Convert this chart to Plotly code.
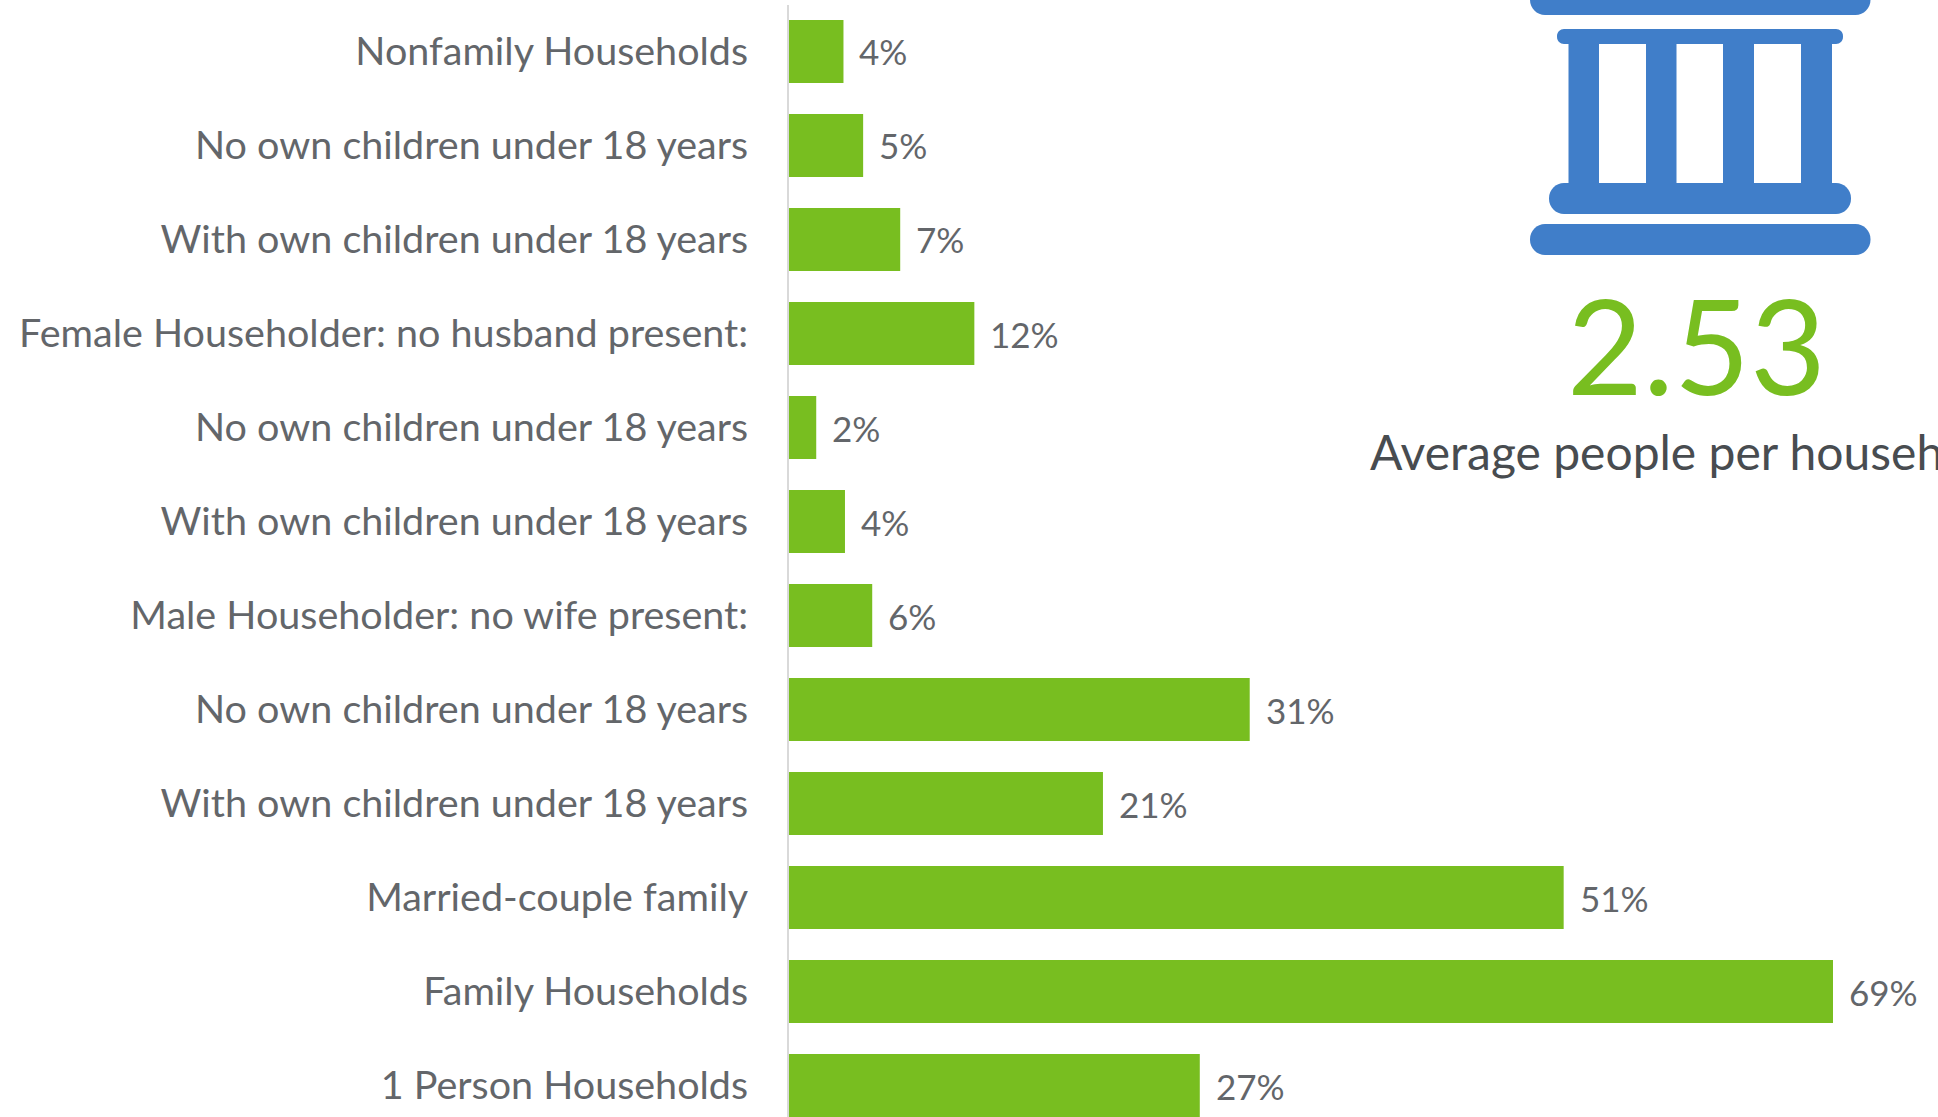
import plotly.graph_objects as go

W, H = 1938, 1117

# Data, bottom to top as drawn by the axis
categories = [
    "1 Person Households",
    "Family Households",
    "Married-couple family",
    "With own children under 18 years",
    "No own children under 18 years",
    "Male Householder: no wife present:",
    "With own children under 18 years",
    "No own children under 18 years",
    "Female Householder: no husband present:",
    "With own children under 18 years",
    "No own children under 18 years",
    "Nonfamily Households",
]
values = [27.15, 69.0, 51.2, 20.75, 30.45, 5.5, 3.7, 1.8, 12.25, 7.35, 4.9, 3.6]
value_labels = ["27%", "69%", "51%", "21%", "31%", "6%", "4%", "2%", "12%", "7%", "5%", "4%"]
positions = list(range(len(categories)))

big_number = "2.53"
big_caption = "Average people per household"

GREEN = "#78BE20"
BLUE = "#407EC9"
GREY = "#63666A"
DARK = "#484C50"
FONT = "Lato"


def px(x):
    return x / W


def py(y):
    return 1 - y / H


def rounded(x0, y0, x1, y1, r):
    c = 0.45 * r
    pts = [
        f"M{px(x0 + r)},{py(y0)}",
        f"L{px(x1 - r)},{py(y0)}",
        f"C{px(x1 - c)},{py(y0)} {px(x1)},{py(y0 + c)} {px(x1)},{py(y0 + r)}",
        f"L{px(x1)},{py(y1 - r)}",
        f"C{px(x1)},{py(y1 - c)} {px(x1 - c)},{py(y1)} {px(x1 - r)},{py(y1)}",
        f"L{px(x0 + r)},{py(y1)}",
        f"C{px(x0 + c)},{py(y1)} {px(x0)},{py(y1 - c)} {px(x0)},{py(y1 - r)}",
        f"L{px(x0)},{py(y0 + r)}",
        f"C{px(x0)},{py(y0 + c)} {px(x0 + c)},{py(y0)} {px(x0 + r)},{py(y0)}",
        "Z",
    ]
    return dict(type="path", xref="paper", yref="paper", path=" ".join(pts),
                fillcolor=BLUE, line=dict(width=0), layer="above")


icon = [
    rounded(1530, -16, 1870.5, 15, 15),
    rounded(1557, 29, 1843, 44, 7),
    rounded(1549, 183, 1851, 214, 15),
    rounded(1530, 224, 1870.5, 255, 15),
]
for left, right in [(1568.5, 1599), (1646, 1676.5), (1723, 1754), (1801, 1832)]:
    icon.append(dict(type="rect", xref="paper", yref="paper", x0=px(left), x1=px(right),
                     y0=py(184), y1=py(43), fillcolor=BLUE, line=dict(width=0), layer="above"))

fig = go.Figure(go.Bar(
    x=values, y=positions, orientation="h", marker=dict(color=GREEN, line=dict(width=0)),
    width=0.67, hoverinfo="skip",
))

annotations = [
    dict(x=v, y=p, xref="x", yref="y", text=t, showarrow=False, xanchor="left",
         yanchor="middle", xshift=14, yshift=0, font=dict(family=FONT, size=35, color=GREY))
    for v, p, t in zip(values, positions, value_labels)
]
annotations += [
    dict(x=px(1696), y=py(345), xref="paper", yref="paper", text=big_number, showarrow=False,
         xanchor="center", yanchor="middle", font=dict(family=FONT, size=131, color=GREEN)),
    dict(x=px(1368), y=py(451), xref="paper", yref="paper", text=big_caption, showarrow=False,
         xanchor="left", yanchor="middle", font=dict(family=FONT, size=48, color=DARK)),
]

fig.update_layout(
    width=W, height=H, margin=dict(l=0, r=0, t=0, b=0),
    paper_bgcolor="white", plot_bgcolor="white", showlegend=False,
    shapes=icon, annotations=annotations, barmode="overlay",
    xaxis=dict(domain=[px(789), 1], range=[0, 75.94], visible=False, fixedrange=True),
    yaxis=dict(
        domain=[0, py(4.5)], range=[-0.335, 11.5], tickmode="array", tickvals=positions,
        ticktext=categories, showgrid=False, zeroline=False, showline=True, linecolor="#D9D9D9",
        linewidth=2, ticks="", ticklabelstandoff=31, automargin=False, fixedrange=True,
        tickfont=dict(family=FONT, size=39.5, color=GREY),
    ),
)

fig.write_html(
    "out.html",
    config={"displayModeBar": False},
    post_script="document.body.style.margin='0';document.body.style.overflow='hidden';",
)
